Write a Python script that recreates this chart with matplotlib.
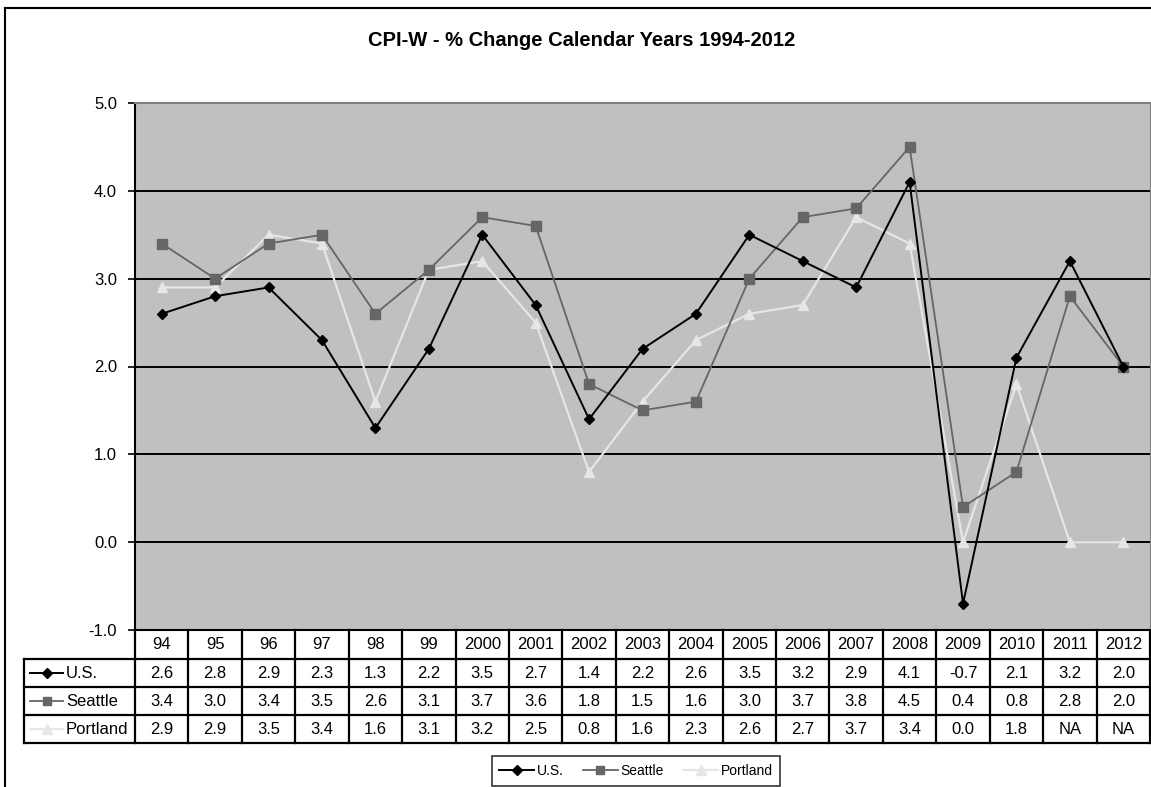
import matplotlib
matplotlib.use("Agg")
import matplotlib.pyplot as plt
from matplotlib.lines import Line2D
import matplotlib.transforms as mtrans
import numpy as np

plt.rcParams['font.family'] = ['Liberation Sans', 'DejaVu Sans']

years = ["94", "95", "96", "97", "98", "99", "2000", "2001", "2002", "2003",
         "2004", "2005", "2006", "2007", "2008", "2009", "2010", "2011", "2012"]
us = [2.6, 2.8, 2.9, 2.3, 1.3, 2.2, 3.5, 2.7, 1.4, 2.2, 2.6, 3.5, 3.2, 2.9, 4.1, -0.7, 2.1, 3.2, 2.0]
seattle = [3.4, 3.0, 3.4, 3.5, 2.6, 3.1, 3.7, 3.6, 1.8, 1.5, 1.6, 3.0, 3.7, 3.8, 4.5, 0.4, 0.8, 2.8, 2.0]
# Portland: NA for 2011, 2012 (plotted as 0.0 as in the original)
portland = [2.9, 2.9, 3.5, 3.4, 1.6, 3.1, 3.2, 2.5, 0.8, 1.6, 2.3, 2.6, 2.7, 3.7, 3.4, 0.0, 1.8, None, None]
portland_plot = [v if v is not None else 0.0 for v in portland]
yticks = [-1.0, 0.0, 1.0, 2.0, 3.0, 4.0, 5.0]
title = "CPI-W - % Change Calendar Years 1994-2012"

W, H = 1151, 787
fig = plt.figure(figsize=(W / 100, H / 100), dpi=100)
fig.patch.set_facecolor("white")

# outer chart border (left and top visible)
fig.add_artist(Line2D([5 / W, 5 / W], [0, 1 - 8 / H], transform=fig.transFigure, color="black", lw=1.5))
fig.add_artist(Line2D([5 / W, 1], [1 - 8 / H, 1 - 8 / H], transform=fig.transFigure, color="black", lw=1.5))

L, R, T, B = 135, 1150, 103, 630
ax = fig.add_axes([L / W, 1 - B / H, (R - L) / W, (B - T) / H])
ax.set_facecolor("#C0C0C0")
x = np.arange(len(years))
ax.set_xlim(-0.5, len(years) - 0.5)
ax.set_ylim(-1, 5)
for yv in yticks[1:-1]:
    ax.axhline(yv, color="black", lw=1.4, zorder=1)

ax.plot(x, portland_plot, color="#E6E6E6", lw=1.6, marker="^", ms=7, zorder=3)
ax.plot(x, seattle, color="#666666", lw=1.3, marker="s", ms=6.5, zorder=4)
ax.plot(x, us, color="black", lw=1.4, marker="D", ms=5.5, zorder=5)

ax.set_yticks(yticks)
ax.set_yticklabels([f"{v:.1f}" for v in yticks], fontsize=12)
ax.tick_params(axis="y", direction="out", length=5, width=1.2, pad=8)
ax.set_xticks([])
ax.spines["top"].set_color("#808080")
ax.spines["top"].set_linewidth(1.5)
ax.spines["right"].set_color("#808080")
ax.spines["left"].set_color("black")
ax.spines["left"].set_linewidth(1.5)
ax.spines["bottom"].set_color("black")
ax.spines["bottom"].set_linewidth(1.5)

fig.text(582 / W, 1 - 41 / H, title, ha="center", va="center", fontsize=14.5, fontweight="bold")

# data table
tr = mtrans.blended_transform_factory(ax.transData, ax.transAxes)
ph = B - T
def ya(py):
    return -(py - B) / ph
rows_px = [630, 659, 687, 715, 743]
label_left_ax = (24 - L) / (R - L)
lw_t = 1.6
for i, py in enumerate(rows_px):
    if i == 0:
        continue
    ax.add_line(Line2D([label_left_ax, 1], [ya(py), ya(py)], transform=ax.transAxes, color="black", lw=lw_t, clip_on=False))
for i in range(len(years) + 1):
    ax.add_line(Line2D([i - 0.5, i - 0.5], [ya(630), ya(743)], transform=tr, color="black", lw=lw_t, clip_on=False))
ax.add_line(Line2D([label_left_ax, label_left_ax], [ya(659), ya(743)], transform=ax.transAxes, color="black", lw=lw_t, clip_on=False))

for i, yr in enumerate(years):
    ax.text(i, ya((630 + 659) / 2), yr, transform=tr, ha="center", va="center", fontsize=12, clip_on=False)

series = [("U.S.", us, "black", "D", 5.0, 1.4),
          ("Seattle", seattle, "#666666", "s", 6.0, 1.3),
          ("Portland", portland, "#E6E6E6", "^", 6.5, 1.6)]
for r, (name, vals, col, mk, ms, lw) in enumerate(series):
    yc = ya((rows_px[r + 1] + rows_px[r + 2]) / 2)
    for i, v in enumerate(vals):
        s = "NA" if v is None else f"{v:.1f}"
        ax.text(i, yc, s, transform=tr, ha="center", va="center", fontsize=12, clip_on=False)
    x0 = (30 - L) / (R - L)
    x1 = (63 - L) / (R - L)
    ax.add_line(Line2D([x0, x1], [yc, yc], transform=ax.transAxes, color=col, lw=lw, clip_on=False))
    ax.add_line(Line2D([(x0 + x1) / 2], [yc], transform=ax.transAxes, color=col, marker=mk, ms=ms, clip_on=False))
    ax.text((66 - L) / (R - L), yc, name, transform=ax.transAxes, ha="left", va="center", fontsize=12, clip_on=False)

# legend
handles = [Line2D([], [], color=c, marker=m, ms=ms, lw=lw) for (_, _, c, m, ms, lw) in series]
leg = fig.legend(handles, [s[0] for s in series], loc="center", bbox_to_anchor=(636 / W, 1 - 771 / H),
                 ncol=3, fontsize=10, frameon=True, fancybox=False, edgecolor="black",
                 handlelength=2.5, handletextpad=0.2, columnspacing=1.4, borderpad=0.55)
leg.get_frame().set_linewidth(1.2)

fig.savefig("out.png", dpi=100, facecolor="white")
